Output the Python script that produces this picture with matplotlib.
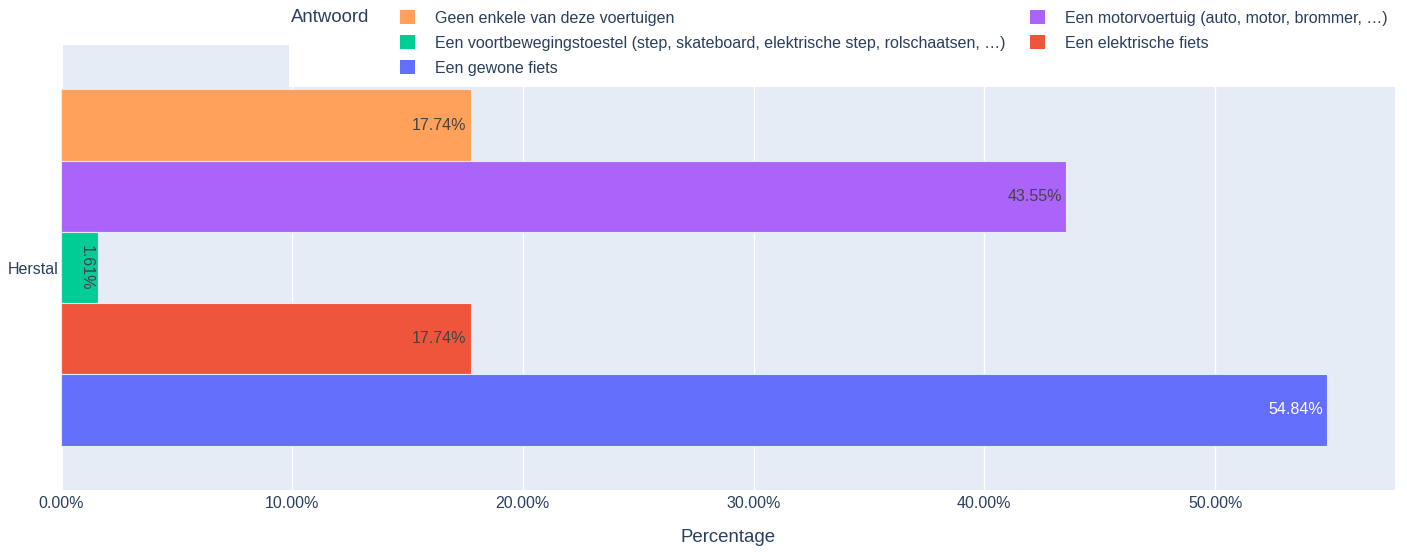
import matplotlib.pyplot as plt
from matplotlib.patches import Patch, Rectangle
from matplotlib.ticker import FuncFormatter

plt.rcParams['font.family'] = ['Liberation Sans', 'DejaVu Sans']

# data
category = "Herstal"
answers = [
    "Geen enkele van deze voertuigen",
    "Een motorvoertuig (auto, motor, brommer, …)",
    "Een voortbewegingstoestel (step, skateboard, elektrische step, rolschaatsen, …)",
    "Een elektrische fiets",
    "Een gewone fiets",
]
percentages = [17.74, 43.55, 1.61, 17.74, 54.84]
colors = ["#FFA15A", "#AB63FA", "#00CC96", "#EF553B", "#636EFA"]
text_colors = ["#444444", "#444444", "#444444", "#444444", "#FFFFFF"]
# legend order as in the reference (column-wise fill)
legend_order = [0, 2, 4, 1, 3]

TXT = "#2a3f5f"
BG = "#E5ECF6"
FS = 11.5

fig = plt.figure(figsize=(14.07, 5.52), dpi=100)
ax = fig.add_axes([61 / 1407, 62 / 552, (1395 - 61) / 1407, (490 - 45) / 552])
ax.set_facecolor(BG)
for s in ax.spines.values():
    s.set_visible(False)

n = len(answers)
bar_h = 0.8 / n
for i, (lab, v, c, tc) in enumerate(zip(answers, percentages, colors, text_colors)):
    y = ((n - 1) / 2 - i) * bar_h
    ax.barh(y, v, height=bar_h, color=c, edgecolor=BG, linewidth=0.8, label=lab, zorder=3)
    rot = -90 if v < 5 else 0
    ax.annotate(f"{v:.2f}%", (v, y), xytext=(-4, 0), textcoords="offset pixels",
                ha="right", va="center", rotation=rot, fontsize=FS, color=tc, zorder=4)

ax.set_ylim(-0.5, 0.5)
ax.set_yticks([0])
ax.set_yticklabels([category])
ax.set_xlim(0, 57.79)
ax.set_xticks(range(0, 51, 10))
ax.xaxis.set_major_formatter(FuncFormatter(lambda x, p: f"{x:.2f}%"))
ax.tick_params(axis="both", length=0, labelsize=FS, colors=TXT)
ax.tick_params(axis="x", pad=4.5)
ax.tick_params(axis="y", pad=2)
ax.grid(axis="x", color="white", linewidth=1, zorder=0)
ax.axvline(0, color="white", linewidth=2, zorder=1)
ax.set_axisbelow(True)
ax.set_xlabel("Percentage", fontsize=13.4, color=TXT, va="center")
ax.xaxis.set_label_coords(0.5, (490 - 537) / 445)

# white legend background over the plot area
fig.patches.append(Rectangle((289 / 1407, (552 - 87) / 552), 1, 1, transform=fig.transFigure,
                             facecolor="white", edgecolor="none", zorder=1))
fig.text(291 / 1407, 1 - 17.5 / 552, "Antwoord", fontsize=13.4, color=TXT, va="center", ha="left", zorder=6)

handles = [Patch(facecolor=colors[i], edgecolor="none") for i in legend_order]
labels = [answers[i] for i in legend_order]
leg = fig.legend(handles, labels, loc="upper left", bbox_to_anchor=(400 / 1407, 1 - 10.5 / 552),
                 ncol=2, frameon=False, fontsize=FS, borderpad=0, borderaxespad=0,
                 handlelength=0.95, handleheight=0.95, handletextpad=1.25,
                 labelspacing=0.6, columnspacing=1.5)
for t in leg.get_texts():
    t.set_color(TXT)
leg.set_zorder(6)

fig.savefig("out.png", dpi=100)
